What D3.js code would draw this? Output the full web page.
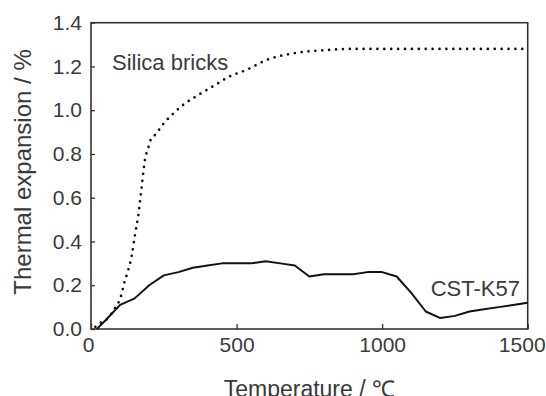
<!DOCTYPE html>
<html>
<head>
<meta charset="utf-8">
<script src="https://cdn.jsdelivr.net/npm/d3@7"></script>
<style>
  body { margin: 0; background: #fff; }
  svg text { font-family: "Liberation Sans", Arial, sans-serif; fill: #3a3a3a; }
</style>
</head>
<body>
<div id="chart"></div>
<script>
;(function () {

    var width = 546
        , height = 396
        , margin = {top: 22.7, right: 18.3, bottom: 67, left: 91};

    // temperature (°C) / thermal expansion (%)
    var silicaTemp = [15, 35, 55, 70, 82, 94, 103, 114, 128, 140, 151, 163, 174, 185, 197, 205, 222, 250,
        283, 317, 363, 420, 477, 535, 604, 695, 810, 890, 1500];
    var silicaExp = [0.01, 0.03, 0.045, 0.07, 0.095, 0.12, 0.15, 0.21, 0.27, 0.335, 0.43, 0.525, 0.65, 0.77,
        0.83, 0.865, 0.89, 0.94, 0.985, 1.025, 1.065, 1.11, 1.155, 1.185, 1.23, 1.26, 1.275, 1.28, 1.28];

    var cstTemp = [20, 50, 100, 150, 200, 250, 300, 350, 400, 450, 500, 550, 600, 650, 700, 750, 800, 850,
        900, 950, 1000, 1050, 1100, 1150, 1200, 1250, 1300, 1350, 1400, 1450, 1500];
    var cstExp = [0, 0.04, 0.11, 0.14, 0.2, 0.245, 0.26, 0.28, 0.29, 0.3, 0.3, 0.3, 0.31, 0.3, 0.29, 0.24,
        0.25, 0.25, 0.25, 0.26, 0.26, 0.24, 0.165, 0.08, 0.05, 0.06, 0.08, 0.09, 0.1, 0.11, 0.12];

    var xTicks = [0, 500, 1000, 1500];
    var yTicks = [0, 0.2, 0.4, 0.6, 0.8, 1.0, 1.2, 1.4];

    var svg = d3.select('#chart').append('svg')
        .attr('width', width)
        .attr('height', height);

    var x = d3.scaleLinear()
        .domain([0, 1500])
        .range([margin.left, width - margin.right]);

    var y = d3.scaleLinear()
        .domain([0, 1.4])
        .range([height - margin.bottom, margin.top]);

    var xAxis = d3.axisBottom(x)
        .tickValues(xTicks)
        .tickFormat(d3.format('d'))
        .tickSizeInner(-5)
        .tickSizeOuter(0)
        .tickPadding(8);

    var yAxis = d3.axisLeft(y)
        .tickValues(yTicks)
        .tickFormat(d3.format('.1f'))
        .tickSizeInner(-4)
        .tickSizeOuter(0)
        .tickPadding(9);

    var gx = svg.append('g')
        .attr('transform', 'translate(0,' + y(0) + ')')
        .call(xAxis);

    var gy = svg.append('g')
        .attr('transform', 'translate(' + x(0) + ',0)')
        .call(yAxis);

    [gx, gy].forEach(function (g) {
        g.select('.domain').remove();
        g.selectAll('.tick line').attr('stroke', '#333').attr('stroke-width', 1.3);
        g.selectAll('.tick text')
            .attr('fill', '#3a3a3a')
            .style('font-family', '"Liberation Sans Narrow", "Arial Narrow", sans-serif')
            .style('font-size', '21px');
    });

    // end labels sit a little inside the tick, as in the original
    gx.selectAll('.tick text')
        .attr('dx', function (d) { return d === 0 ? -3 : (d === 1500 ? -6 : 0); });

    // frame
    svg.append('rect')
        .attr('x', x(0))
        .attr('y', y(1.4))
        .attr('width', x(1500) - x(0))
        .attr('height', y(0) - y(1.4))
        .attr('fill', 'none')
        .attr('stroke', '#333')
        .attr('stroke-width', 1.6);

    var silica = silicaTemp.map(function (t, i) { return [t, silicaExp[i]]; });
    var cst = cstTemp.map(function (t, i) { return [t, cstExp[i]]; });

    var smoothLine = d3.line()
        .x(function (d) { return x(d[0]); })
        .y(function (d) { return y(d[1]); })
        .curve(d3.curveMonotoneX);

    var plainLine = d3.line()
        .x(function (d) { return x(d[0]); })
        .y(function (d) { return y(d[1]); });

    svg.append('path')
        .datum(silica)
        .attr('d', smoothLine)
        .attr('fill', 'none')
        .attr('stroke', '#111')
        .attr('stroke-width', 2.7)
        .attr('stroke-linecap', 'round')
        .attr('stroke-dasharray', '0 6.9');

    svg.append('path')
        .datum(cst)
        .attr('d', plainLine)
        .attr('fill', 'none')
        .attr('stroke', '#111')
        .attr('stroke-width', 2)
        .attr('stroke-linejoin', 'round');

    // series labels
    svg.append('text')
        .attr('x', 112)
        .attr('y', 70)
        .style('font-size', '22px')
        .text('Silica bricks');

    svg.append('text')
        .attr('x', 520)
        .attr('y', 296)
        .attr('text-anchor', 'end')
        .style('font-size', '22px')
        .text('CST-K57');

    // axis titles
    svg.append('text')
        .attr('x', (x(0) + x(1500)) / 2)
        .attr('y', 397)
        .attr('text-anchor', 'middle')
        .style('font-size', '23px')
        .text('Temperature / \u2103');

    svg.append('text')
        .attr('transform', 'translate(31,172) rotate(-90)')
        .attr('text-anchor', 'middle')
        .style('font-size', '24px')
        .text('Thermal expansion / %');

}());
</script>
</body>
</html>
